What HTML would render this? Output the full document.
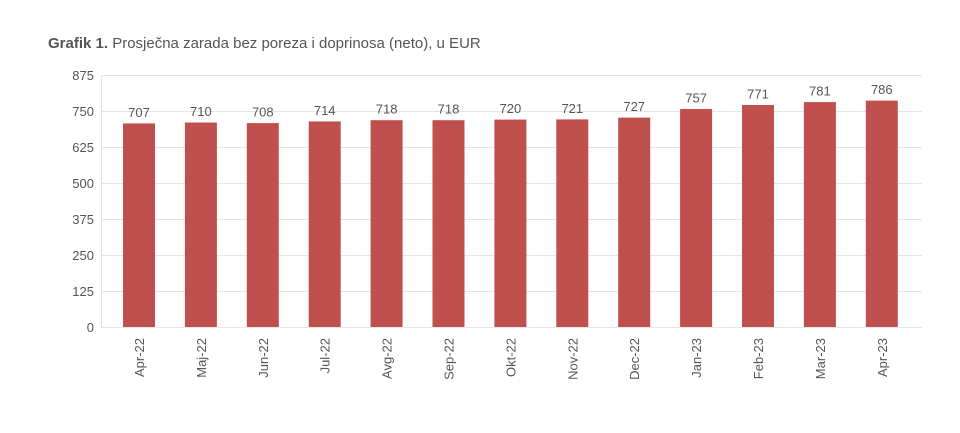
<!DOCTYPE html>
<html><head><meta charset="utf-8"><style>
body{margin:0;background:#fff;}
svg{display:block;font-family:"Liberation Sans",sans-serif;}
</style></head><body>
<svg width="960" height="433" xmlns="http://www.w3.org/2000/svg">
<text x="48" y="48" font-size="15" fill="#555"><tspan font-weight="bold">Grafik 1.</tspan> Prosječna zarada bez poreza i doprinosa (neto), u EUR</text>
<g stroke="#e6e6e6" stroke-width="1">
<line x1="101" x2="922" y1="75.5" y2="75.5"/><line x1="101" x2="922" y1="111.5" y2="111.5"/>
<line x1="101" x2="922" y1="147.5" y2="147.5"/><line x1="101" x2="922" y1="183.5" y2="183.5"/>
<line x1="101" x2="922" y1="219.5" y2="219.5"/><line x1="101" x2="922" y1="255.5" y2="255.5"/>
<line x1="101" x2="922" y1="291.5" y2="291.5"/><line x1="101" x2="922" y1="327.5" y2="327.5"/>
<line x1="101.5" x2="101.5" y1="75" y2="328"/>
</g>
<g font-size="13" fill="#555" text-anchor="end">
<text x="94" y="80">875</text><text x="94" y="116">750</text><text x="94" y="152">625</text>
<text x="94" y="188">500</text><text x="94" y="224">375</text><text x="94" y="260">250</text>
<text x="94" y="296">125</text><text x="94" y="332">0</text>
</g>
<g fill="#c0504d">
<rect x="123" y="123.4" width="32" height="203.6"/>
<rect x="184.9" y="122.5" width="32" height="204.5"/>
<rect x="246.8" y="123.1" width="32" height="203.9"/>
<rect x="308.7" y="121.4" width="32" height="205.6"/>
<rect x="370.6" y="120.2" width="32" height="206.8"/>
<rect x="432.5" y="120.2" width="32" height="206.8"/>
<rect x="494.4" y="119.6" width="32" height="207.4"/>
<rect x="556.3" y="119.4" width="32" height="207.6"/>
<rect x="618.2" y="117.6" width="32" height="209.4"/>
<rect x="680.1" y="109" width="32" height="218"/>
<rect x="742" y="105" width="32" height="222"/>
<rect x="803.9" y="102.1" width="32" height="224.9"/>
<rect x="865.8" y="100.6" width="32" height="226.4"/>
</g>
<g font-size="13" fill="#555" text-anchor="middle">
<text x="139" y="117">707</text>
<text x="200.9" y="116">710</text>
<text x="262.8" y="116.5">708</text>
<text x="324.7" y="115">714</text>
<text x="386.6" y="113.5">718</text>
<text x="448.5" y="113.5">718</text>
<text x="510.4" y="113">720</text>
<text x="572.3" y="113">721</text>
<text x="634.2" y="111">727</text>
<text x="696.1" y="102.5">757</text>
<text x="758" y="98.5">771</text>
<text x="819.9" y="95.5">781</text>
<text x="881.8" y="94">786</text>
</g>
<g font-size="13" fill="#555" text-anchor="end">
<text transform="translate(144,338) rotate(-90)">Apr-22</text>
<text transform="translate(205.9,338) rotate(-90)">Maj-22</text>
<text transform="translate(267.8,338) rotate(-90)">Jun-22</text>
<text transform="translate(329.7,338) rotate(-90)">Jul-22</text>
<text transform="translate(391.6,338) rotate(-90)">Avg-22</text>
<text transform="translate(453.5,338) rotate(-90)">Sep-22</text>
<text transform="translate(515.4,338) rotate(-90)">Okt-22</text>
<text transform="translate(577.3,338) rotate(-90)">Nov-22</text>
<text transform="translate(639.2,338) rotate(-90)">Dec-22</text>
<text transform="translate(701.1,338) rotate(-90)">Jan-23</text>
<text transform="translate(763,338) rotate(-90)">Feb-23</text>
<text transform="translate(824.9,338) rotate(-90)">Mar-23</text>
<text transform="translate(886.8,338) rotate(-90)">Apr-23</text>
</g>
</svg>
</body></html>
